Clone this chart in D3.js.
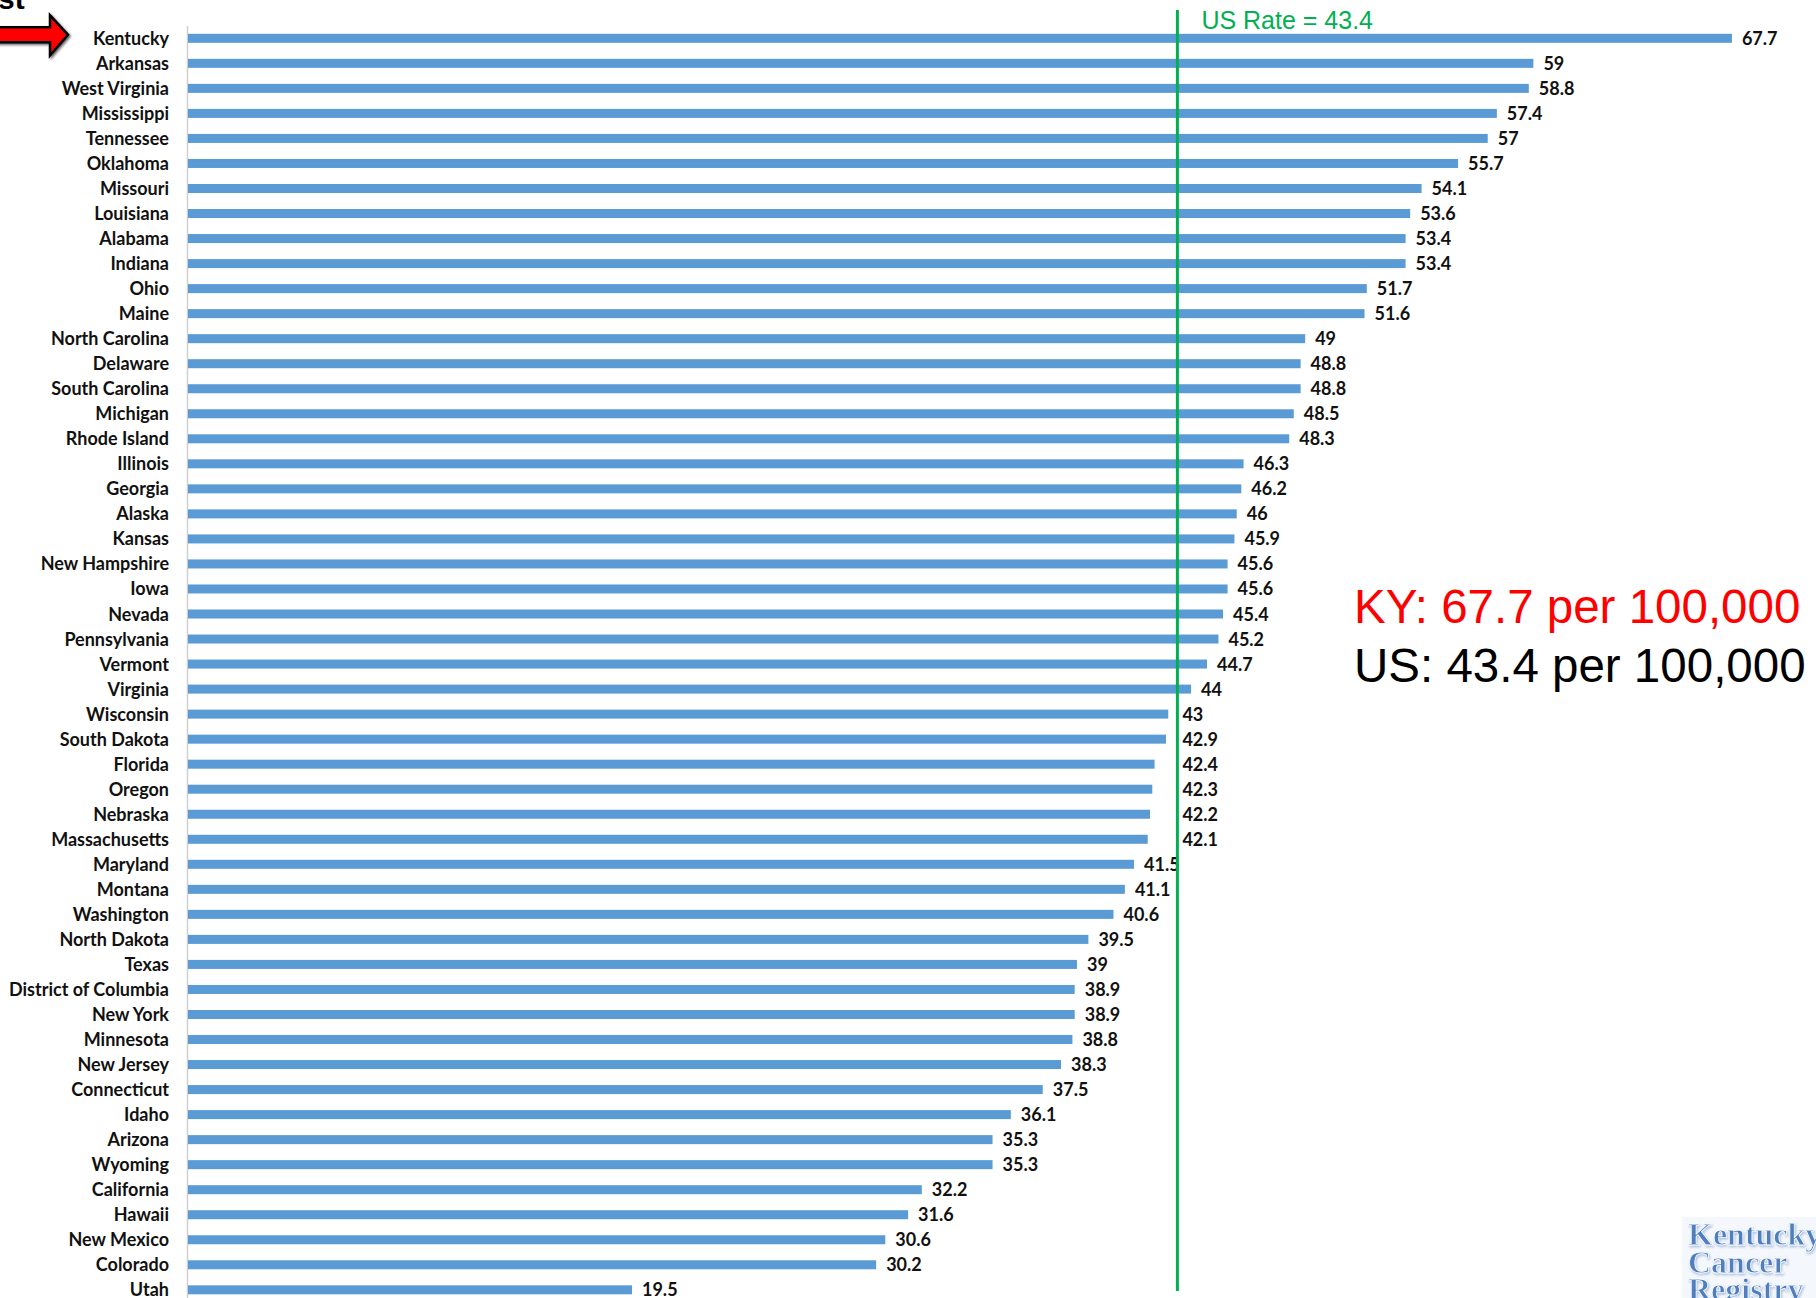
<!DOCTYPE html>
<html>
<head>
<meta charset="utf-8">
<script src="https://cdn.jsdelivr.net/npm/d3@7"></script>
<style>
  html, body { margin: 0; padding: 0; background: #ffffff; }
  svg { display: block; }
</style>
</head>
<body>
<svg id="chart" width="1816" height="1298"></svg>
<script>
const states = ["Kentucky","Arkansas","West Virginia","Mississippi","Tennessee","Oklahoma","Missouri","Louisiana","Alabama","Indiana","Ohio","Maine","North Carolina","Delaware","South Carolina","Michigan","Rhode Island","Illinois","Georgia","Alaska","Kansas","New Hampshire","Iowa","Nevada","Pennsylvania","Vermont","Virginia","Wisconsin","South Dakota","Florida","Oregon","Nebraska","Massachusetts","Maryland","Montana","Washington","North Dakota","Texas","District of Columbia","New York","Minnesota","New Jersey","Connecticut","Idaho","Arizona","Wyoming","California","Hawaii","New Mexico","Colorado","Utah"];
const rates = [67.7,59,58.8,57.4,57,55.7,54.1,53.6,53.4,53.4,51.7,51.6,49,48.8,48.8,48.5,48.3,46.3,46.2,46,45.9,45.6,45.6,45.4,45.2,44.7,44,43,42.9,42.4,42.3,42.2,42.1,41.5,41.1,40.6,39.5,39,38.9,38.9,38.8,38.3,37.5,36.1,35.3,35.3,32.2,31.6,30.6,30.2,19.5];
const usRate = 43.4;
const kyRate = 67.7;
const usRateLabel = "US Rate = " + usRate;
const summaryLines = ["KY: " + kyRate + " per 100,000", "US: " + usRate + " per 100,000"];
const logoLines = ["Kentucky", "Cancer", "Registry"];
const titleFragment = "st";

const svg = d3.select("#chart");
const W = 1816, H = 1298;

const x = d3.scaleLinear().domain([0, 70]).range([187, 187 + 70 * 22.82]);
const y = d3.scaleBand().domain(states).range([25.8, 25.8 + 51 * 25.03])
  .paddingInner(0.64).paddingOuter(0.32);
const bw = y.bandwidth();

const defs = svg.append("defs");
const f = defs.append("filter").attr("id", "sh").attr("x", "-20%").attr("y", "-20%").attr("width", "150%").attr("height", "160%");
f.append("feDropShadow").attr("dx", 1.5).attr("dy", 1.5).attr("stdDeviation", 1).attr("flood-color", "#000").attr("flood-opacity", 0.6);
const g2 = defs.append("filter").attr("id", "glow").attr("x", "-10%").attr("y", "-10%").attr("width", "120%").attr("height", "130%");
g2.append("feDropShadow").attr("dx", 1).attr("dy", 1.5).attr("stdDeviation", 1.2).attr("flood-color", "#9db7dc").attr("flood-opacity", 0.9);

// title fragment (cut off at top-left)
svg.append("text").attr("x", -2).attr("y", 9)
  .attr("font-family", "Liberation Sans, Arial, sans-serif").attr("font-weight", "bold")
  .attr("font-size", 30).attr("fill", "#000").text(titleFragment);

// axis line
svg.append("line")
  .attr("x1", x(0) + 0.5).attr("x2", x(0) + 0.5)
  .attr("y1", 26).attr("y2", H)
  .attr("stroke", "#d0d0d0").attr("stroke-width", 1.5);

// bars
svg.append("g").selectAll("rect").data(states).join("rect")
  .attr("x", x(0) + 1)
  .attr("y", d => y(d))
  .attr("width", (d, i) => x(rates[i]) - x(0) - 1)
  .attr("height", bw)
  .attr("fill", "#5B9BD5");

// state labels
svg.append("g").selectAll("text").data(states).join("text")
  .attr("x", 169)
  .attr("y", d => y(d) + bw / 2 + 6.5)
  .attr("text-anchor", "end")
  .attr("font-family", "Lato, Carlito, Calibri, sans-serif")
  .attr("font-weight", "bold")
  .attr("font-size", 18)
  .attr("fill", "#111")
  .text(d => d);

const lineX = x(usRate);

// value labels
svg.append("g").selectAll("text").data(states).join("text")
  .attr("x", (d, i) => {
    const v = rates[i];
    if (v > 42 && v < usRate) return lineX + 5;
    return x(v) + 10;
  })
  .attr("y", d => y(d) + bw / 2 + 6.5)
  .attr("font-family", "Lato, Carlito, Calibri, sans-serif")
  .attr("font-weight", "bold")
  .attr("font-size", 18)
  .attr("fill", "#111")
  .text((d, i) => rates[i]);

// US rate line
svg.append("line")
  .attr("x1", lineX).attr("x2", lineX)
  .attr("y1", 10).attr("y2", 1291)
  .attr("stroke", "#00B050").attr("stroke-width", 3);

svg.append("text")
  .attr("x", lineX + 24).attr("y", 29)
  .attr("font-family", "Liberation Sans, Arial, sans-serif")
  .attr("font-size", 25)
  .attr("fill", "#00B050")
  .text(usRateLabel);

// red arrow pointing to Kentucky
const cy = y("Kentucky") + bw / 2 - 3.5;
const arrow = [[-6, cy - 7.5], [50, cy - 7.5], [50, cy - 19.5], [68, cy], [50, cy + 20.5], [50, cy + 7.5], [-6, cy + 7.5]];
svg.append("path")
  .attr("d", d3.line()(arrow) + "Z")
  .attr("fill", "#FF0000")
  .attr("stroke", "#000")
  .attr("stroke-width", 2.5)
  .attr("stroke-linejoin", "miter")
  .attr("filter", "url(#sh)");

// summary text
const sumColors = ["#FF0000", "#000000"];
svg.append("g").selectAll("text").data(summaryLines).join("text")
  .attr("x", 1354)
  .attr("y", (d, i) => 623 + i * 58.5)
  .attr("font-family", "Liberation Sans, Arial, sans-serif")
  .attr("font-size", 47.5)
  .attr("fill", (d, i) => sumColors[i])
  .text(d => d);

// logo
svg.append("rect").attr("x", 1682).attr("y", 1217).attr("width", W - 1682).attr("height", H - 1217)
  .attr("fill", "#f4f7fb");
svg.append("g").selectAll("text").data(logoLines).join("text")
  .attr("x", 1688)
  .attr("y", (d, i) => 1245 + i * 27.5)
  .attr("font-family", "Liberation Serif, Times New Roman, serif")
  .attr("font-weight", "bold")
  .attr("font-size", 32)
  .attr("fill", "#4f7fbf")
  .attr("stroke", "#ffffff")
  .attr("stroke-width", 0.8)
  .attr("filter", "url(#glow)")
  .text(d => d);
</script>
</body>
</html>
